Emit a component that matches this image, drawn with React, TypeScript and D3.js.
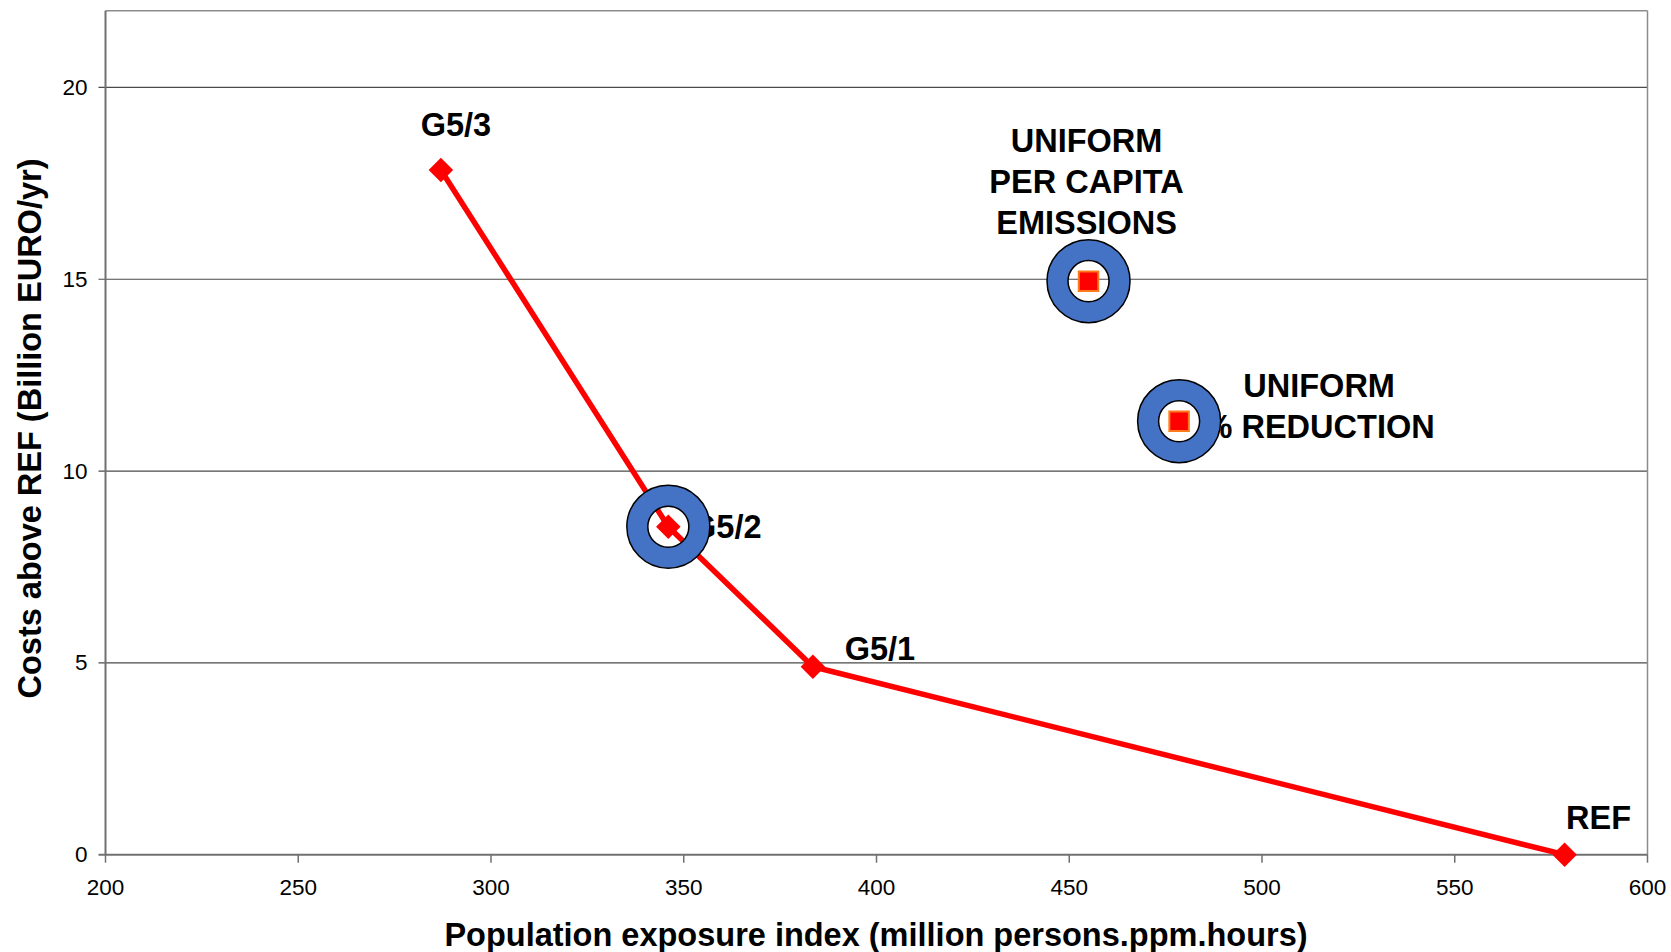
import React from "react";
import * as d3 from "d3";

// ---- data ----
const frontierX = [287, 346, 383.5, 578.5];
const frontierY = [17.85, 8.55, 4.9, 0];
const frontierLabels = ["G5/3", "G5/2", "G5/1", "REF"];

const uniformX = [455, 478.5];
const uniformY = [14.95, 11.3];
const uniformLabels = [["UNIFORM", "PER CAPITA", "EMISSIONS"], ["UNIFORM", "% REDUCTION"]];

const ringX = [346, 455, 478.5];
const ringY = [8.55, 14.95, 11.3];

const xTicks = [200, 250, 300, 350, 400, 450, 500, 550, 600];
const yTicks = [0, 5, 10, 15, 20];

const xTitle = "Population exposure index (million persons.ppm.hours)";
const yTitle = "Costs above REF (Billion EURO/yr)";

// ---- layout ----
const W = 1671, H = 952;
const L = 105.5, R = 1647.5, T = 10.7, B = 854.7;
const FONT = "Arial, 'Liberation Sans', Helvetica, sans-serif";
const LABEL_SIZE = 32.5;

// label offsets (px) relative to their point
const frontierLabelOffsets = [[15, -45], [58, 0], [67, -18], [34, -37]];
const uniformLabelOffsets = [[-2, -140, 41], [140, -35, 41]];

export default function App() {
  const x = d3.scaleLinear().domain([200, 600]).range([L, R]);
  const y = d3.scaleLinear().domain([0, 22]).range([B, T]);

  const pts = frontierX.map((v, i) => [x(v), y(frontierY[i])] as [number, number]);
  const linePath = d3.line()(pts) || "";
  const diamond = d3.symbol(d3.symbolSquare, 300)() || "";
  const square = d3.symbol(d3.symbolSquare, 380)() || "";

  const rOut = 41.5, rIn = 20.5;
  const ringPath = (cx: number, cy: number) => {
    const p = d3.path();
    p.moveTo(cx + rOut, cy);
    p.arc(cx, cy, rOut, 0, Math.PI * 2);
    p.closePath();
    p.moveTo(cx + rIn, cy);
    p.arc(cx, cy, rIn, 0, Math.PI * 2);
    p.closePath();
    return p.toString();
  };

  return (
    <div style={{ position: "fixed", left: 0, top: 0, width: W, height: H, background: "#fff" }}>
      <svg width={W} height={H} style={{ display: "block" }} fontFamily={FONT}>
        <rect x={0} y={0} width={W} height={H} fill="#fff" />
        {/* gridlines */}
        {yTicks.filter((t) => t > 0).map((t) => (
          <line key={t} x1={L - 7} x2={R} y1={y(t)} y2={y(t)} stroke="#4a4a4a" strokeWidth={1.2} />
        ))}
        {/* plot border top/right */}
        <line x1={L} x2={R} y1={T} y2={T} stroke="#8c8c8c" strokeWidth={1.5} />
        <line x1={R} x2={R} y1={T} y2={B} stroke="#8c8c8c" strokeWidth={1.5} />
        {/* axes */}
        <line x1={L} x2={L} y1={T} y2={B} stroke="#707070" strokeWidth={2} />
        <line x1={L - 7} x2={R} y1={B} y2={B} stroke="#707070" strokeWidth={2} />
        {xTicks.map((t) => (
          <g key={t}>
            <line x1={x(t)} x2={x(t)} y1={B} y2={B + 8} stroke="#707070" strokeWidth={1.5} />
            <text x={x(t)} y={B + 32.5} fontSize={22.5} textAnchor="middle" dominantBaseline="central" fill="#000">
              {t}
            </text>
          </g>
        ))}
        {yTicks.map((t) => (
          <text key={t} x={L - 18} y={y(t)} fontSize={22.5} textAnchor="end" dominantBaseline="central" fill="#000">
            {t}
          </text>
        ))}
        {/* axis titles */}
        <text x={876} y={935} fontSize={LABEL_SIZE} fontWeight="bold" textAnchor="middle" dominantBaseline="central">
          {xTitle}
        </text>
        <text
          transform={`translate(30, 428.5) rotate(-90)`}
          fontSize={LABEL_SIZE}
          fontWeight="bold"
          textAnchor="middle"
          dominantBaseline="central"
        >
          {yTitle}
        </text>
        {/* frontier line */}
        <path d={linePath} fill="none" stroke="#ff0000" strokeWidth={5.5} strokeLinejoin="round" />
        {/* labels */}
        {frontierLabels.map((lab, i) => (
          <text
            key={lab}
            x={pts[i][0] + frontierLabelOffsets[i][0]}
            y={pts[i][1] + frontierLabelOffsets[i][1]}
            fontSize={LABEL_SIZE}
            fontWeight="bold"
            textAnchor="middle"
            dominantBaseline="central"
          >
            {lab}
          </text>
        ))}
        {uniformLabels.map((lines, i) =>
          lines.map((ln, j) => (
            <text
              key={`${i}-${j}`}
              x={x(uniformX[i]) + uniformLabelOffsets[i][0]}
              y={y(uniformY[i]) + uniformLabelOffsets[i][1] + j * uniformLabelOffsets[i][2]}
              fontSize={LABEL_SIZE}
              fontWeight="bold"
              textAnchor="middle"
              dominantBaseline="central"
            >
              {ln}
            </text>
          ))
        )}
        {/* diamonds */}
        {pts.map((p, i) => (
          <path key={i} d={diamond} transform={`translate(${p[0]},${p[1]}) rotate(45)`} fill="#ff0000" />
        ))}
        {/* rings */}
        {ringX.map((v, i) => (
          <path
            key={i}
            d={ringPath(x(v), y(ringY[i]))}
            fill="#4472c4"
            fillRule="evenodd"
            stroke="#000"
            strokeWidth={1.5}
          />
        ))}
        {/* uniform squares */}
        {uniformX.map((v, i) => (
          <path
            key={i}
            d={square}
            transform={`translate(${x(v)},${y(uniformY[i])})`}
            fill="#ff0000"
            stroke="#ff7a1a"
            strokeWidth={2}
          />
        ))}
      </svg>
    </div>
  );
}
